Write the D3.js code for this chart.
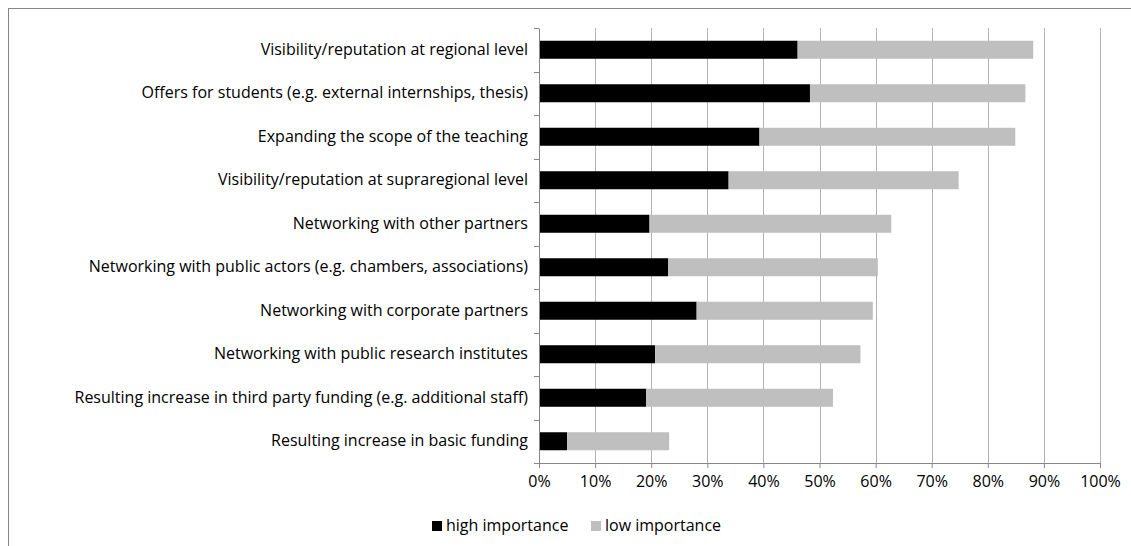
<!DOCTYPE html>
<meta charset="utf-8">
<style>
  body { margin: 0; background: #fff; }
  text { font-family: "Open Sans", sans-serif; fill: #000; }
</style>
<body>
<svg id="chart" width="1131" height="546"></svg>
<script src="https://cdn.jsdelivr.net/npm/d3@7"></script>
<script>
  const categories = [
    "Visibility/reputation at regional level",
    "Offers for students (e.g. external internships, thesis)",
    "Expanding the scope of the teaching",
    "Visibility/reputation at supraregional level",
    "Networking with other partners",
    "Networking with public actors (e.g. chambers, associations)",
    "Networking with corporate partners",
    "Networking with public research institutes",
    "Resulting increase in third party funding (e.g. additional staff)",
    "Resulting increase in basic funding"
  ];
  const highImportance = [0.461, 0.483, 0.393, 0.338, 0.197, 0.230, 0.281, 0.207, 0.191, 0.050];
  const lowImportance  = [0.420, 0.384, 0.456, 0.410, 0.431, 0.374, 0.314, 0.366, 0.333, 0.182];
  const seriesNames = ["high importance", "low importance"];
  const seriesColors = ["#000000", "#bfbfbf"];
  const tickValues = [0, 0.1, 0.2, 0.3, 0.4, 0.5, 0.6, 0.7, 0.8, 0.9, 1.0];

  const svg = d3.select("#chart");
  const plotLeft = 539, plotRight = 1100, plotTop = 28, plotBottom = 463;
  const fontSize = 16;

  // chart frame
  svg.append("rect")
    .attr("x", 8.5).attr("y", 8.5)
    .attr("width", 1140).attr("height", 560)
    .attr("fill", "none").attr("stroke", "#868686");

  const x = d3.scaleLinear().domain([0, 1]).range([plotLeft, plotRight]);
  const y = d3.scaleBand().domain(categories).range([plotTop, plotBottom]).paddingInner(0.586).paddingOuter(0.293);

  // gridlines
  svg.append("g").selectAll("line")
    .data(tickValues.slice(1))
    .enter().append("line")
    .attr("x1", d => Math.round(x(d)) + 0.5).attr("x2", d => Math.round(x(d)) + 0.5)
    .attr("y1", plotTop).attr("y2", plotBottom)
    .attr("stroke", "#b3b3b3").attr("stroke-width", 1);

  // bars
  const rows = categories.map((c, i) => ({ c, hi: highImportance[i], lo: lowImportance[i] }));
  const stacked = d3.stack().keys(["hi", "lo"])(rows);
  svg.append("g").selectAll("g")
    .data(stacked)
    .enter().append("g")
    .attr("fill", (d, i) => seriesColors[i])
    .selectAll("rect")
    .data(d => d)
    .enter().append("rect")
    .attr("x", d => x(d[0]))
    .attr("width", d => x(d[1]) - x(d[0]))
    .attr("y", d => y(d.data.c))
    .attr("height", y.bandwidth());

  // x axis
  const xAxis = svg.append("g")
    .attr("transform", `translate(0,${plotBottom})`)
    .call(d3.axisBottom(x).tickValues(tickValues).tickFormat(d3.format(".0%")).tickSizeOuter(0).tickSize(5).tickPadding(8));
  xAxis.select(".domain").attr("stroke", "#868686");
  xAxis.selectAll(".tick line").attr("stroke", "#868686");
  xAxis.selectAll("text").attr("font-size", fontSize).attr("font-family", "'Open Sans', sans-serif");

  // y axis
  const yAxis = svg.append("g")
    .attr("transform", `translate(${plotLeft},0)`)
    .call(d3.axisLeft(y).tickSize(0).tickPadding(11));
  yAxis.select(".domain").attr("stroke", "#868686");
  yAxis.selectAll("text").attr("font-size", fontSize).attr("font-family", "'Open Sans', sans-serif");
  // category separator ticks
  const step = y.step();
  svg.append("g").selectAll("line")
    .data(d3.range(categories.length + 1))
    .enter().append("line")
    .attr("x1", plotLeft - 5).attr("x2", plotLeft)
    .attr("y1", i => Math.round(plotTop + i * step) + 0.5).attr("y2", i => Math.round(plotTop + i * step) + 0.5)
    .attr("stroke", "#868686");

  // legend
  const legendX = [432, 591];
  const legend = svg.append("g").selectAll("g")
    .data(seriesNames)
    .enter().append("g")
    .attr("transform", (d, i) => `translate(${legendX[i]},521)`);
  legend.append("rect").attr("width", 10).attr("height", 10).attr("fill", (d, i) => seriesColors[i]);
  legend.append("text").attr("x", 14).attr("y", 10).attr("font-size", fontSize).text(d => d);
</script>
</body>
